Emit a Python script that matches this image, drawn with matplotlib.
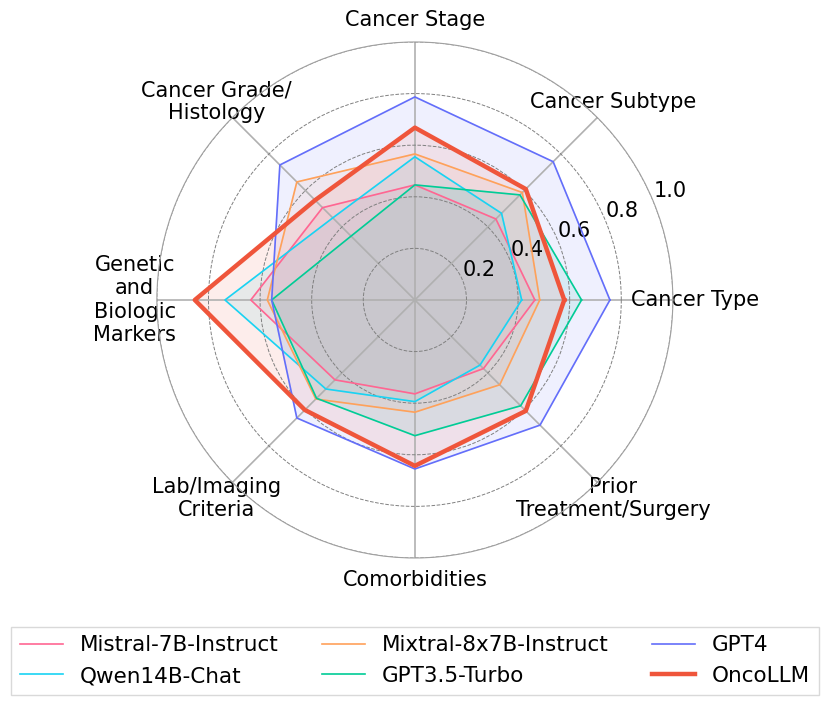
import numpy as np
import matplotlib.pyplot as plt

categories = ['Cancer Type', 'Cancer Subtype', 'Cancer Stage',
              'Cancer Grade/\nHistology', 'Genetic\nand\nBiologic\nMarkers',
              'Lab/Imaging\nCriteria', 'Comorbidities', 'Prior\nTreatment/Surgery']

models = ['Mistral-7B-Instruct', 'Qwen14B-Chat', 'Mixtral-8x7B-Instruct',
          'GPT3.5-Turbo', 'GPT4', 'OncoLLM']

mistral = [0.465, 0.444, 0.446, 0.506, 0.636, 0.438, 0.364, 0.376]
qwen = [0.414, 0.475, 0.555, 0.45, 0.736, 0.488, 0.394, 0.357]
mixtral = [0.484, 0.589, 0.566, 0.647, 0.572, 0.543, 0.435, 0.465]
gpt35 = [0.646, 0.576, 0.446, 0.35, 0.555, 0.539, 0.526, 0.58]
gpt4 = [0.756, 0.758, 0.787, 0.74, 0.555, 0.647, 0.655, 0.686]
oncollm = [0.579, 0.608, 0.668, 0.547, 0.853, 0.603, 0.643, 0.608]

colors = ['#FF6692', '#19D3F3', '#FFA15A', '#00CC96', '#636EFA', '#EF553B']
widths = [1.2, 1.2, 1.2, 1.2, 1.2, 3.2]

rticks = [0.2, 0.4, 0.6, 0.8, 1.0]

angles = np.linspace(0, 2 * np.pi, len(categories), endpoint=False)
closed = np.append(angles, angles[0])

fig = plt.figure(figsize=(8.3, 7.04), dpi=100)
ax = fig.add_axes([0.189, 0.2074, 0.6217, 0.733], projection='polar')

for name, vals, c, lw in zip(models, [mistral, qwen, mixtral, gpt35, gpt4, oncollm], colors, widths):
    v = np.append(vals, vals[0])
    ax.plot(closed, v, color=c, linewidth=lw, label=name)
    ax.fill(closed, v, color=c, alpha=0.1)

ax.set_ylim(0, 1.0)
ax.set_yticks(rticks)
ax.set_yticklabels([f'{t:.1f}' for t in rticks], fontsize=15)
ax.set_xticks(angles)
ax.set_xticklabels(categories, fontsize=15)
ax.tick_params(axis='x', pad=5.5)
ax.xaxis.grid(True, color='#b0b0b0', linewidth=1.2)
ax.yaxis.grid(True, color='#808080', linestyle='--', linewidth=0.7)
ax.spines['polar'].set_color('#a0a0a0')
ax.spines['polar'].set_linewidth(0.8)

fig.legend(loc='lower center', ncol=3, fontsize=15.5, bbox_to_anchor=(0.5, -0.002),
           edgecolor='#d0d0d0', fancybox=False)

fig.savefig('out.png', dpi=100)
